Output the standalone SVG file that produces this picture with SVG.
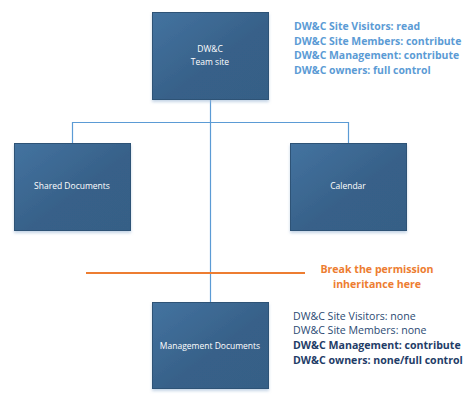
<svg xmlns="http://www.w3.org/2000/svg" width="473" height="403" viewBox="0 0 473 403">
<defs>
<linearGradient id="g" x1="0" y1="0" x2="1" y2="1">
<stop offset="0" stop-color="#4473A0"/>
<stop offset="0.55" stop-color="#376189"/>
<stop offset="1" stop-color="#365F86"/>
</linearGradient>
<filter id="sh" x="-10%" y="-10%" width="120%" height="125%">
<feDropShadow dx="0" dy="2" stdDeviation="1.5" flood-color="#9DB9D6" flood-opacity="0.6"/>
</filter>
</defs>
<style>
.box{fill:url(#g);stroke:#2E5276;stroke-width:1;filter:url(#sh)}
.bt{font-family:"Open Sans","Liberation Sans",sans-serif;font-size:8.5px;fill:#FFFFFF;text-anchor:middle}
.conn{stroke:#5B9BD5;stroke-width:1.2;fill:none}
.top{font-family:"Open Sans","Liberation Sans",sans-serif;font-size:10.45px;font-weight:bold;fill:#5B9BD5}
.bot{font-family:"Open Sans","Liberation Sans",sans-serif;font-size:10.6px;fill:#2B4A73}
.bold{font-weight:bold;fill:#1F3D68}
.org{font-family:"Open Sans","Liberation Sans",sans-serif;font-size:10.6px;font-weight:bold;fill:#ED7D31;text-anchor:middle}
</style>
<rect width="473" height="403" fill="#FFFFFF"/>
<g id="connectors">
<path class="conn" d="M210.5 100 V302"/>
<path class="conn" d="M72.5 143 V122.5 H348.5 V143"/>
<path d="M86 273 H305" stroke="#ED7D31" stroke-width="2.2"/>
</g>
<g id="team-site">
<rect class="box" x="152.5" y="12.5" width="116" height="87"/>
<text class="bt" x="210" y="52">DW&amp;C</text>
<text class="bt" x="210" y="65">Team site</text>
</g>
<g id="shared-documents">
<rect class="box" x="14.5" y="143.5" width="116" height="87"/>
<text class="bt" x="72" y="189">Shared Documents</text>
</g>
<g id="calendar">
<rect class="box" x="290.5" y="143.5" width="116" height="87"/>
<text class="bt" x="348" y="189">Calendar</text>
</g>
<g id="management-documents">
<rect class="box" x="152.5" y="302.5" width="116" height="86"/>
<text class="bt" x="210" y="349">Management Documents</text>
</g>
<g id="top-permissions">
<text class="top" x="294" y="30">DW&amp;C Site Visitors: read</text>
<text class="top" x="294" y="44.5">DW&amp;C Site Members: contribute</text>
<text class="top" x="294" y="59">DW&amp;C Management: contribute</text>
<text class="top" x="294" y="74">DW&amp;C owners: full control</text>
</g>
<g id="break-label">
<text class="org" x="377" y="273">Break the permission</text>
<text class="org" x="377" y="288">inheritance here</text>
</g>
<g id="bottom-permissions">
<text class="bot" x="293" y="320">DW&amp;C Site Visitors: none</text>
<text class="bot" x="293" y="334">DW&amp;C Site Members: none</text>
<text class="bot bold" x="293" y="349">DW&amp;C Management: contribute</text>
<text class="bot bold" x="293" y="363.5">DW&amp;C owners: none/full control</text>
</g>
</svg>
